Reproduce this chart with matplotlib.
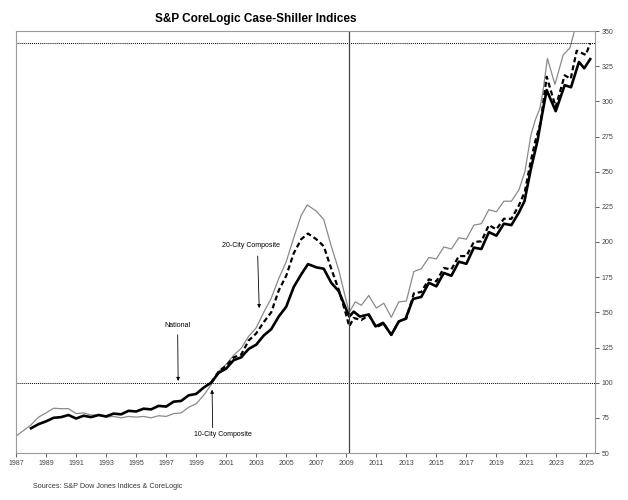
import numpy as np
import matplotlib.pyplot as plt

# -------------------- Data --------------------
# 10-City Composite (thin grey)
dates_10 = [1987.0, 1987.5, 1988.0, 1988.5, 1989.0, 1989.5, 1990.0, 1990.5, 1991.0, 1991.5,
            1992.0, 1992.5, 1993.0, 1993.5, 1994.0, 1994.5, 1995.0, 1995.5, 1996.0, 1996.5,
            1997.0, 1997.5, 1998.0, 1998.5, 1999.0, 1999.5, 2000.0, 2000.5, 2001.0, 2001.5,
            2002.0, 2002.5, 2003.0, 2003.5, 2004.0, 2004.5, 2005.0, 2005.5, 2006.0, 2006.4,
            2007.0, 2007.5, 2008.0, 2008.5, 2009.0, 2009.2, 2009.6, 2010.0, 2010.5, 2011.0,
            2011.5, 2012.0, 2012.5, 2013.0, 2013.5, 2014.0, 2014.5, 2015.0, 2015.5, 2016.0,
            2016.5, 2017.0, 2017.5, 2018.0, 2018.5, 2019.0, 2019.5, 2020.0, 2020.5, 2020.9,
            2021.3, 2021.6, 2021.9, 2022.1, 2022.4, 2022.9, 2023.45, 2023.9, 2024.2, 2024.5,
            2025.0, 2025.3]
city10 = [62.0, 66.0, 70.0, 75.5, 78.5, 81.8, 81.5, 81.5, 78.0, 78.5,
          77.0, 77.0, 75.5, 76.0, 75.0, 76.0, 75.5, 76.0, 75.0, 76.5,
          76.0, 78.0, 78.5, 82.5, 85.0, 91.0, 98.5, 108.0, 113.0, 119.5,
          124.5, 133.0, 139.0, 150.0, 160.0, 174.0, 186.0, 203.0, 219.0, 226.3,
          222.0, 216.0, 197.0, 180.0, 158.0, 150.0, 157.5, 155.0, 162.0, 153.0,
          156.5, 146.5, 157.5, 158.0, 179.0, 181.0, 189.0, 188.0, 196.5, 195.0,
          203.0, 202.0, 212.0, 213.0, 223.0, 221.5, 229.0, 229.0, 237.0, 250.0,
          276.0, 287.0, 295.0, 307.0, 330.5, 312.0, 333.0, 338.0, 350.0, 361.0,
          356.0, 362.0]

# National (thick black)
dates_nat = [1988.0, 1988.5, 1989.0, 1989.5, 1990.0, 1990.5, 1991.0, 1991.5, 1992.0, 1992.5,
             1993.0, 1993.5, 1994.0, 1994.5, 1995.0, 1995.5, 1996.0, 1996.5, 1997.0, 1997.5,
             1998.0, 1998.5, 1999.0, 1999.5, 2000.0, 2000.5, 2001.0, 2001.5, 2002.0, 2002.5,
             2003.0, 2003.5, 2004.0, 2004.5, 2005.0, 2005.5, 2006.0, 2006.45, 2007.0, 2007.5,
             2008.0, 2008.5, 2009.0, 2009.2, 2009.5, 2009.9, 2010.5, 2010.95, 2011.45, 2012.0,
             2012.5, 2012.95, 2013.45, 2014.0, 2014.5, 2015.0, 2015.5, 2016.0, 2016.5, 2017.0,
             2017.5, 2018.0, 2018.5, 2019.0, 2019.5, 2020.0, 2020.5, 2020.87, 2021.3, 2021.75,
             2022.0, 2022.35, 2022.95, 2023.55, 2023.97, 2024.5, 2024.85, 2025.25]
national = [67.6, 70.5, 72.5, 75.0, 75.5, 77.0, 74.5, 76.5, 75.5, 77.0,
            76.0, 78.0, 77.5, 80.0, 79.5, 81.5, 81.0, 83.5, 83.0, 86.5,
            87.0, 91.0, 92.0, 96.5, 100.0, 107.0, 110.0, 116.0, 118.0, 124.0,
            127.0, 133.5, 138.0, 147.0, 154.0, 168.0, 177.0, 184.3, 182.0, 181.0,
            171.0, 165.0, 152.0, 147.0, 150.5, 147.0, 148.5, 140.0, 142.5, 134.0,
            143.5, 145.5, 159.5, 161.0, 171.0, 168.5, 178.0, 176.0, 186.0, 184.5,
            196.0, 195.0, 207.0, 204.5, 213.0, 212.0, 221.0, 229.0, 252.0, 272.5,
            288.0, 308.0, 293.0, 311.5, 310.0, 328.0, 323.5, 330.0]

# 20-City Composite (dashed black)
dates_20 = [2000.0, 2000.5, 2001.0, 2001.5, 2002.0, 2002.5, 2003.0, 2003.5, 2004.0, 2004.5,
            2005.0, 2005.5, 2006.0, 2006.45, 2007.0, 2007.5, 2008.0, 2008.5, 2009.0, 2009.2,
            2009.5, 2010.0, 2010.5, 2011.0, 2011.5, 2012.0, 2012.5, 2013.0, 2013.5, 2014.0,
            2014.5, 2015.0, 2015.5, 2016.0, 2016.5, 2017.0, 2017.5, 2018.0, 2018.5, 2019.0,
            2019.5, 2020.0, 2020.5, 2020.9, 2021.3, 2021.6, 2021.95, 2022.35, 2022.95, 2023.55,
            2023.95, 2024.35, 2024.95, 2025.25]
city20 = [100.0, 108.0, 112.0, 118.0, 120.0, 130.0, 135.0, 143.0, 150.0, 165.5,
          176.0, 192.0, 202.0, 206.0, 202.0, 197.0, 181.0, 166.0, 148.0, 140.0,
          146.0, 144.5, 148.0, 139.5, 142.0, 134.0, 143.5, 145.5, 163.5, 164.5,
          173.5, 172.0, 181.5, 180.5, 190.0, 190.0, 200.0, 200.5, 212.0, 209.0,
          216.5, 216.5, 226.0, 236.0, 258.0, 272.0, 285.0, 317.5, 296.0, 318.5,
          316.0, 336.0, 333.0, 341.2]

year_ticks = list(range(1987, 2026, 2))
value_ticks = list(range(50, 351, 25))
base_level = 100
latest_level = 341.5
marker_year = 2009.2

# -------------------- Plot --------------------
plt.rcParams['font.family'] = ['Liberation Sans Narrow', 'Liberation Sans', 'DejaVu Sans']

fig = plt.figure(figsize=(6.28, 5.0), dpi=100)
ax = fig.add_axes([0.0255, 0.094, 0.9215, 0.844])

ax.plot(dates_10, city10, color='#8a8a8a', lw=0.9)
ax.plot(dates_nat, national, color='black', lw=1.9)
ax.plot(dates_20, city20, color='black', lw=1.6, dashes=[2.3, 1.4])

ax.axhline(base_level, color='black', lw=0.7, ls=(0, (1, 1)))
ax.axhline(latest_level, color='black', lw=0.7, ls=(0, (1, 1)))
ax.axvline(marker_year, color='#444444', lw=0.9)

ax.set_xlim(1987, 2025.55)
ax.set_ylim(50, 350)
ax.set_xticks(year_ticks)
ax.set_yticks(value_ticks)
ax.yaxis.tick_right()
ax.tick_params(axis='both', labelsize=5, colors='#444444', length=3, width=0.6, pad=2)
for s in ax.spines.values():
    s.set_color('#9a9a9a')
    s.set_linewidth(0.8)

# Annotations
arrow = dict(arrowstyle='-|>', lw=0.6, color='black', mutation_scale=5, shrinkA=0, shrinkB=0)
ax.text(2002.65, 197.8, '20-City Composite', fontsize=5, ha='center', va='center')
ax.annotate('', xy=(2003.2, 153), xytext=(2003.1, 190), arrowprops=arrow)
ax.text(1997.74, 140.3, 'National', fontsize=5, ha='center', va='center')
ax.annotate('', xy=(1997.8, 101.2), xytext=(1997.77, 134), arrowprops=arrow)
ax.text(2000.8, 63.5, '10-City Composite', fontsize=5, ha='center', va='center')
ax.annotate('', xy=(2000.06, 95), xytext=(2000.1, 68), arrowprops=arrow)

fig.text(0.408, 0.962, 'S&P CoreLogic Case-Shiller Indices', fontsize=8.5,
         fontweight='bold', ha='center', va='center')
fig.text(0.053, 0.026, 'Sources: S&P Dow Jones Indices & CoreLogic', fontsize=5.2,
         ha='left', va='center', color='#333333')

fig.savefig('out.png', dpi=100)
